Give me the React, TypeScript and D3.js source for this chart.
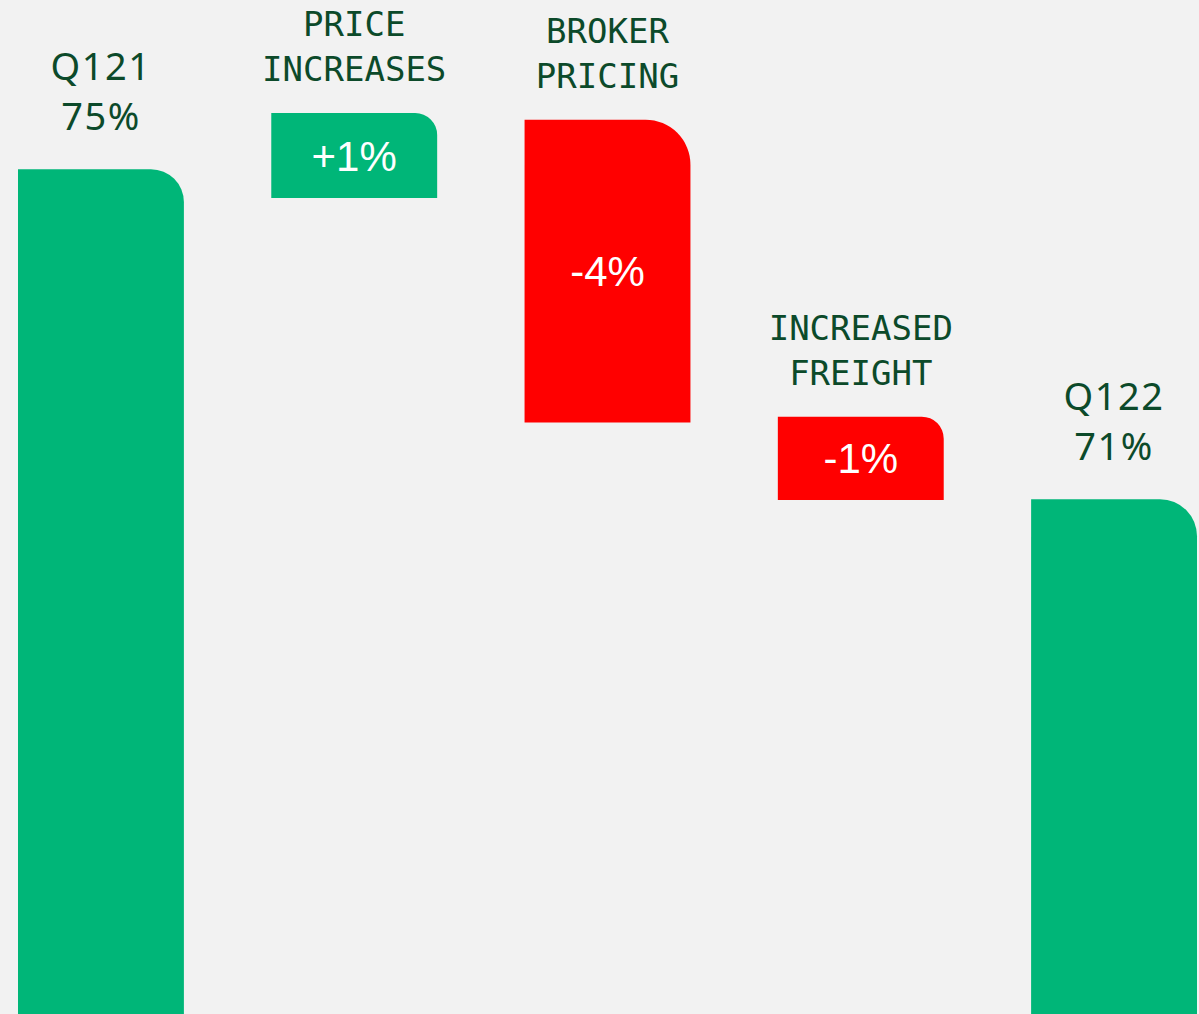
import React, { useMemo } from 'react'
import * as d3 from 'd3'

// waterfall steps (percent)
const categories = ['Q121', 'PRICE INCREASES', 'BROKER PRICING', 'INCREASED FREIGHT', 'Q122']
const barKind = ['total', 'increase', 'decrease', 'decrease', 'total']
const barLow = [64.76, 74.65, 71.93, 70.99, 64.76]
const barHigh = [75, 75.68, 75.6, 72.0, 71]
const valueLabels = ['75%', '+1%', '-4%', '-1%', '71%']
const labelLines = [['Q121', '75%'], ['PRICE', 'INCREASES'], ['BROKER', 'PRICING'], ['INCREASED', 'FREIGHT'], ['Q122', '71%']]
const yTop = 77.05

const cornerRadius = [33, 22, 45, 22, 37]

const WIDTH = 1199
const HEIGHT = 1014
const GREEN = '#00b678'
const RED = '#ff0000'
const TEXT = '#0c4a2a'

function topRightRounded(x: number, y: number, w: number, h: number, r: number) {
    const p = d3.path()
    p.moveTo(x, y + h)
    p.lineTo(x, y)
    p.lineTo(x + w - r, y)
    p.arcTo(x + w, y, x + w, y + r, r)
    p.lineTo(x + w, y + h)
    p.closePath()
    return p.toString()
}

export default function App() {
    const xScale = useMemo(() => (
        d3.scaleBand<string>()
            .domain(categories)
            .range([18, 1197])
            .paddingInner(0.345)
            .paddingOuter(0)
    ), [])

    const yScale = useMemo(() => (
        d3.scaleLinear()
            .domain([d3.min(barLow) as number, yTop])
            .range([HEIGHT, 0])
    ), [])

    return (
        <svg
            width={WIDTH}
            height={HEIGHT}
            style={{ position: 'absolute', left: 0, top: 0, background: '#f2f2f2' }}
        >
            <rect width={WIDTH} height={HEIGHT} fill="#f2f2f2" />
            {categories.map((c, i) => {
                const x = xScale(c) as number
                const w = xScale.bandwidth()
                const y0 = yScale(barHigh[i])
                const y1 = yScale(barLow[i])
                const cx = x + w / 2
                const isTotal = barKind[i] === 'total'
                const fill = barKind[i] === 'decrease' ? RED : GREEN
                return (
                    <g key={c}>
                        <path d={topRightRounded(x, y0, w, y1 - y0, cornerRadius[i])} fill={fill} />
                        {isTotal ? (
                            <text
                                x={cx}
                                textAnchor="middle"
                                fill={TEXT}
                                style={{ fontFamily: '"Noto Sans", sans-serif', fontSize: 38, letterSpacing: 1.5 }}
                            >
                                <tspan x={cx} y={y0 - 89}>{labelLines[i][0]}</tspan>
                                <tspan x={cx} y={y0 - 39}>{labelLines[i][1]}</tspan>
                            </text>
                        ) : (
                            <>
                                <text
                                    textAnchor="middle"
                                    fill={TEXT}
                                    style={{ fontFamily: '"DejaVu Sans Mono", monospace', fontSize: 34 }}
                                >
                                    <tspan x={cx} y={y0 - 77}>{labelLines[i][0]}</tspan>
                                    <tspan x={cx} y={y0 - 32}>{labelLines[i][1]}</tspan>
                                </text>
                                <text
                                    x={cx}
                                    y={(y0 + y1) / 2}
                                    dy="0.36em"
                                    textAnchor="middle"
                                    fill="#ffffff"
                                    style={{ fontFamily: '"Liberation Sans", Arial, sans-serif', fontSize: 42 }}
                                >
                                    {valueLabels[i]}
                                </text>
                            </>
                        )}
                    </g>
                )
            })}
        </svg>
    )
}
